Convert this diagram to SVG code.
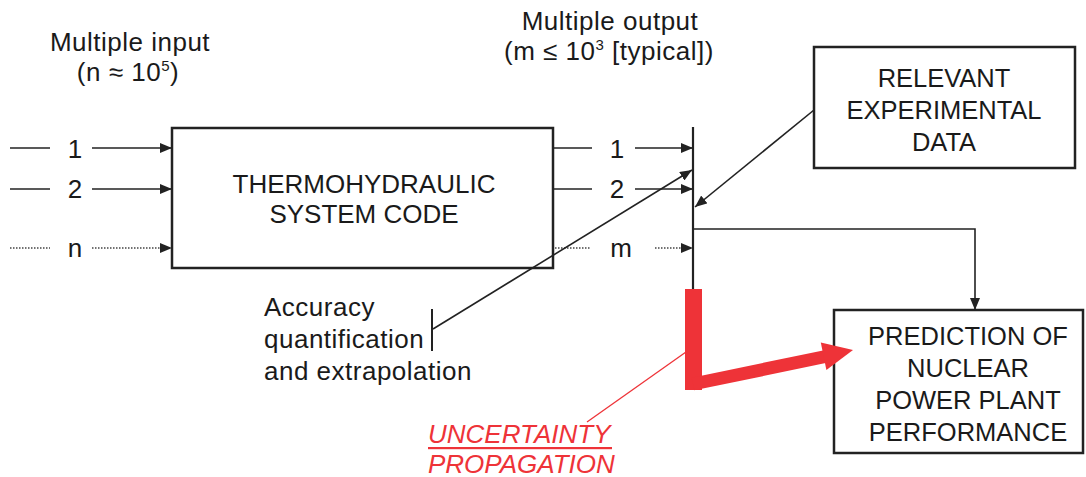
<svg xmlns="http://www.w3.org/2000/svg" width="1086" height="477" viewBox="0 0 1086 477">
<defs>
<marker id="ah" viewBox="0 0 12 10" refX="12" refY="5" markerWidth="12" markerHeight="10" markerUnits="userSpaceOnUse" orient="auto">
<path d="M0,0 L12,5 L0,10 Z" fill="#222"/>
</marker>
</defs>
<style>
text{font-family:"Liberation Sans",Arial,Helvetica,sans-serif;fill:#1a1a1a;}
.lbl{font-size:26px;}
.lc{font-size:26px;letter-spacing:0.5px;}
.cap{font-size:25.5px;}
.box{fill:#fff;stroke:#222;stroke-width:2.5;}
.ln{fill:none;stroke:#222;stroke-width:1.6;}
.dot{fill:none;stroke:#444;stroke-width:1.4;stroke-dasharray:1.5 1.5;}
.red{fill:#ee3338;}
.redtxt{fill:#ee3338;font-style:italic;font-size:26px;}
</style>
<rect width="1086" height="477" fill="#fff"/>

<g id="labels">
<text class="lc" x="130" y="51" text-anchor="middle">Multiple input</text>
<text class="lc" x="128" y="81" text-anchor="middle">(n ≈ 10<tspan font-size="15" dy="-10">5</tspan><tspan dy="10">)</tspan></text>
<text class="lc" x="610" y="30" text-anchor="middle">Multiple output</text>
<text class="lc" x="609" y="60" text-anchor="middle">(m ≤ 10<tspan font-size="15" dy="-10">3</tspan><tspan dy="10"> [typical])</tspan></text>
<text class="lbl" x="75" y="158" text-anchor="middle">1</text>
<text class="lbl" x="75" y="198" text-anchor="middle">2</text>
<text class="lbl" x="75" y="257" text-anchor="middle">n</text>
<text class="lbl" x="617" y="158" text-anchor="middle">1</text>
<text class="lbl" x="617" y="198" text-anchor="middle">2</text>
<text class="lbl" x="621" y="257" text-anchor="middle">m</text>
</g>

<g id="code">
<rect class="box" x="172" y="128" width="381" height="140"/>
<text class="lbl" x="364" y="193" text-anchor="middle">THERMOHYDRAULIC</text>
<text class="lbl" x="364" y="223" text-anchor="middle">SYSTEM CODE</text>
</g>

<g id="experimental">
<rect class="box" x="814" y="47" width="261" height="121"/>
<text class="cap" x="944" y="87" text-anchor="middle">RELEVANT</text>
<text class="cap" x="944" y="119" text-anchor="middle">EXPERIMENTAL</text>
<text class="cap" x="944" y="151" text-anchor="middle">DATA</text>
</g>

<g id="prediction">
<rect class="box" x="834" y="310" width="249" height="143"/>
<text class="cap" x="968" y="345" text-anchor="middle">PREDICTION OF</text>
<text class="cap" x="968" y="377" text-anchor="middle">NUCLEAR</text>
<text class="cap" x="968" y="409" text-anchor="middle">POWER PLANT</text>
<text class="cap" x="968" y="441" text-anchor="middle">PERFORMANCE</text>
</g>

<g id="accuracy">
<text class="lc" x="264" y="316">Accuracy</text>
<text class="lc" x="264" y="348">quantification</text>
<text class="lc" x="264" y="380">and extrapolation</text>
</g>

<g id="uncertainty">
<text class="redtxt" x="428" y="443">UNCERTAINTY</text>
<rect class="red" x="428" y="447" width="184" height="2.2"/>
<text class="redtxt" x="428" y="473">PROPAGATION</text>
</g>

<g id="connectors">
<line class="ln" x1="10" y1="148" x2="50" y2="148"/>
<line class="ln" x1="92" y1="148" x2="172" y2="148" marker-end="url(#ah)"/>
<line class="ln" x1="10" y1="189" x2="50" y2="189"/>
<line class="ln" x1="92" y1="189" x2="172" y2="189" marker-end="url(#ah)"/>
<line class="dot" x1="10" y1="248" x2="50" y2="248"/>
<line class="dot" x1="92" y1="248" x2="162" y2="248"/>
<path d="M160,243 L172,248 L160,253 Z" fill="#222"/>
<line class="ln" x1="553" y1="148" x2="592" y2="148"/>
<line class="ln" x1="635" y1="148" x2="693" y2="148" marker-end="url(#ah)"/>
<line class="ln" x1="553" y1="189" x2="592" y2="189"/>
<line class="ln" x1="635" y1="189" x2="693" y2="189" marker-end="url(#ah)"/>
<line class="dot" x1="555" y1="248" x2="590" y2="248"/>
<line class="dot" x1="655" y1="248" x2="683" y2="248"/>
<path d="M681,243 L693,248 L681,253 Z" fill="#222"/>
<line x1="693" y1="127" x2="693" y2="290" stroke="#222" stroke-width="2.2"/>
<line class="ln" x1="814" y1="110" x2="695" y2="207" marker-end="url(#ah)"/>
<line x1="432" y1="309" x2="432" y2="351" stroke="#222" stroke-width="2"/>
<line class="ln" x1="433" y1="329" x2="692" y2="170" marker-end="url(#ah)"/>
<polyline class="ln" points="693,229 975,229 975,310" marker-end="url(#ah)"/>
<rect class="red" x="685" y="289" width="17" height="101"/>
<line x1="693" y1="384" x2="828" y2="356" stroke="#ee3338" stroke-width="13"/>
<polygon class="red" points="853,350 826.4,370 820.8,342.4"/>
<line x1="587" y1="422" x2="686" y2="352" stroke="#ee3338" stroke-width="1.3"/>
</g>
</svg>
